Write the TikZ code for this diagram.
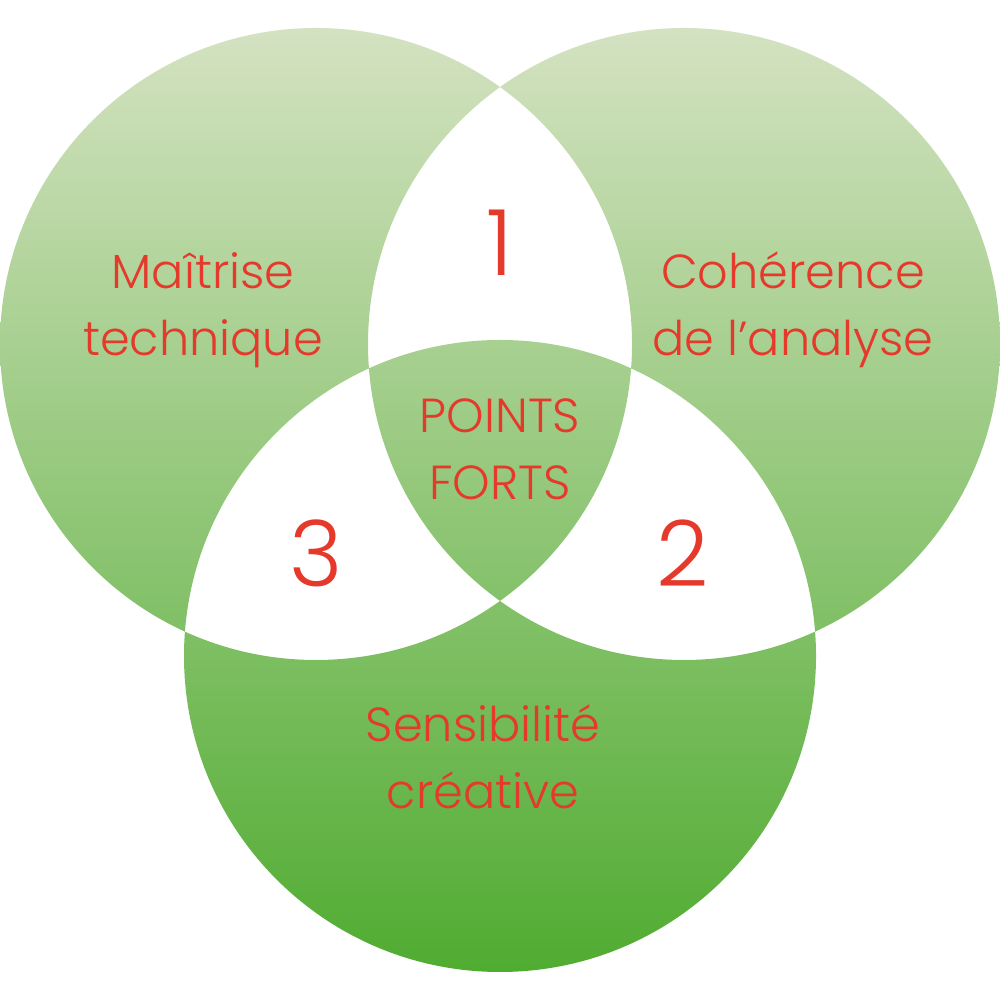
\documentclass[tikz,border=0pt]{standalone}
\usepackage{fontspec}
\IfFontExistsTF{Poppins Light}{\setmainfont{Poppins Light}}{\setmainfont{Poppins}}
\usepackage{xcolor}
\usetikzlibrary{positioning}
\definecolor{PaleGreen}{HTML}{D4E2C1}
\definecolor{MidGreen}{HTML}{AFCD93}
\definecolor{DeepGreen}{HTML}{50AC31}
\definecolor{LabelRed}{HTML}{E5392C}

\begin{document}
\begin{tikzpicture}[
    label/.style={text=LabelRed, align=center, font=\fontsize{13.6}{19}\selectfont},
    num/.style={text=LabelRed, font=\fontsize{26}{30}\selectfont}]
    \useasboundingbox (0,0) rectangle (10,10);
    % Circle centres
    \coordinate (left) at (3.16,6.56);
    \coordinate (right) at (6.84,6.56);
    \coordinate (bottom) at (5,3.44);

    % Venn regions (pairwise overlaps stay white)
    \shade[even odd rule, top color=PaleGreen, middle color=MidGreen, bottom color=DeepGreen]
        (left) circle (3.16) (right) circle (3.16) (bottom) circle (3.16);

    % Labels
    \node (tech) [label] at (2.03,6.9) {Maîtrise\\technique};
    \node (anal) [label] at (7.93,6.9) {Cohérence\\de l’analyse};
    \node (crea) [label] at (4.83,2.43) {Sensibilité\\créative};
    \node (forts) [label] at (5,5.51) {POINTS\\FORTS};
    \node (one) [num] at (5,7.57) {1};
    \node (two) [num] at (6.83,4.47) {2};
    \node (three) [num] at (3.16,4.47) {3};
\end{tikzpicture}
\end{document}
